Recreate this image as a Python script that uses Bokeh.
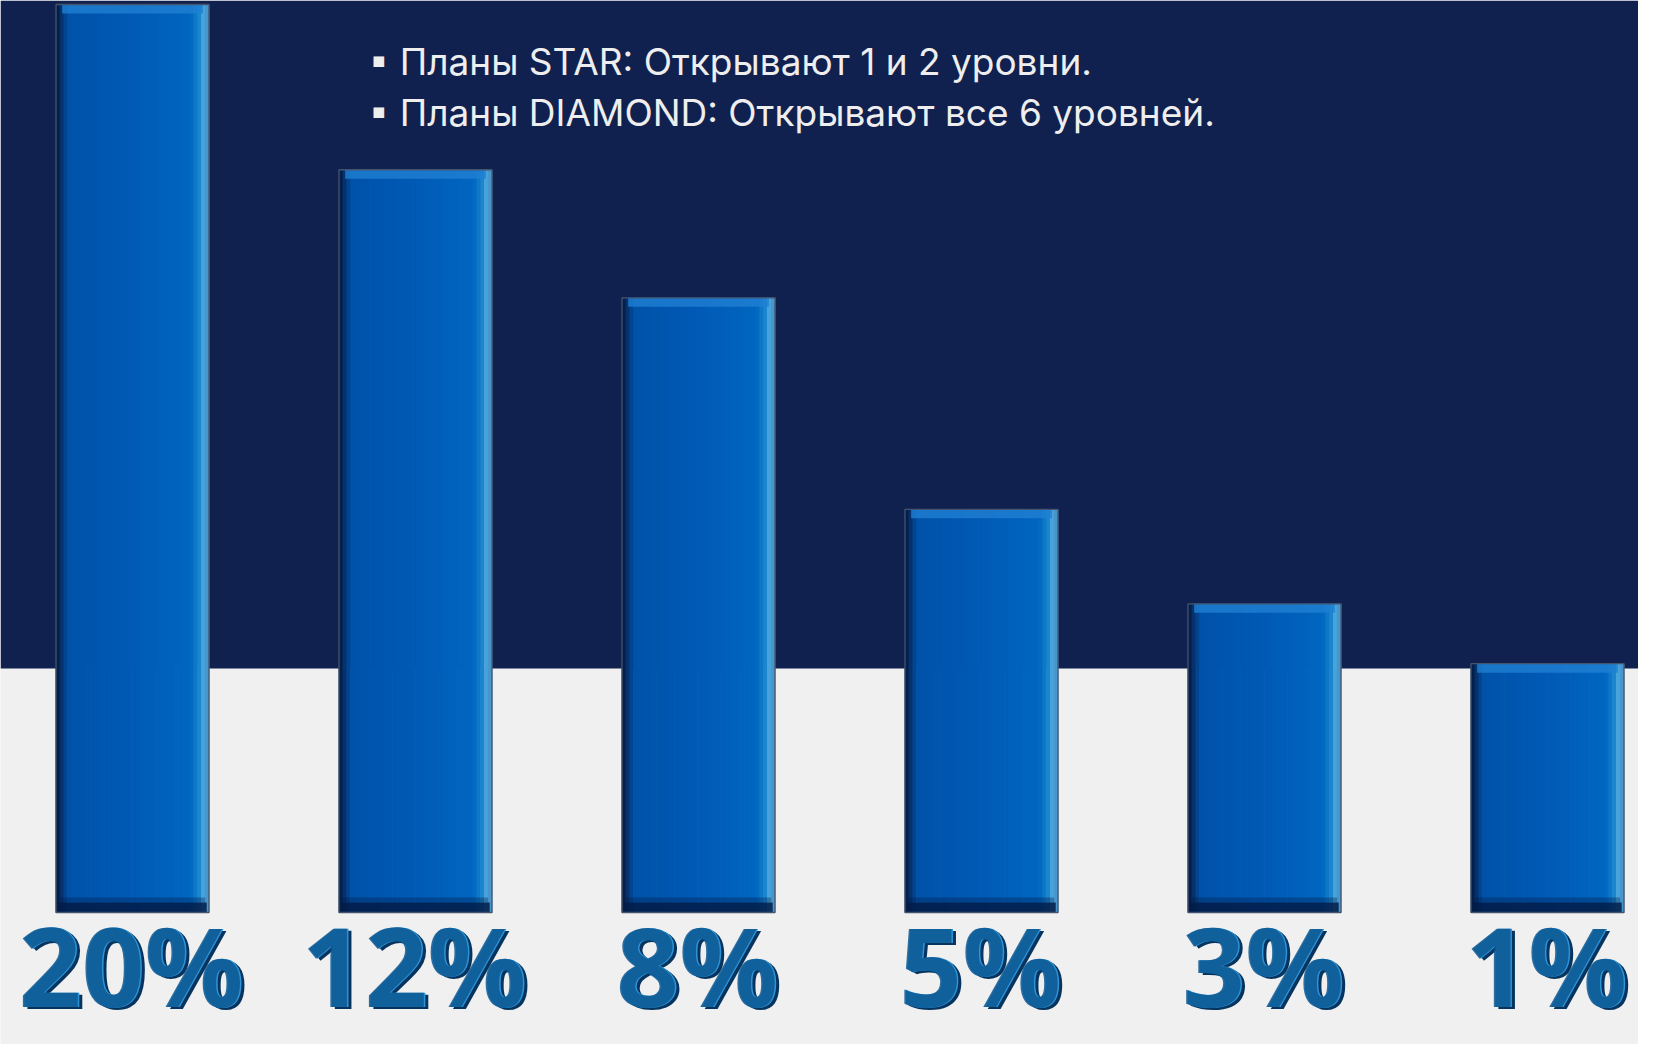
import numpy as np
from bokeh.plotting import figure
from bokeh.models import ColumnDataSource, Range1d, BoxAnnotation, Label
from bokeh.transform import dodge
from bokeh.core.properties import value
from bokeh.embed import file_html
from bokeh.resources import INLINE

# ---------------- data ----------------
levels = ["20%", "12%", "8%", "5%", "3%", "1%"]            # level rewards (category labels)
bar_height = [100.0, 81.8, 67.7, 44.4, 34.0, 27.4]          # relative bar height, tallest = 100
notes = [
    "\u25aa Планы STAR: Открывают 1 и 2 уровни.",
    "\u25aa Планы DIAMOND: Открывают все 6 уровней.",
]

# ---------------- layout / style ----------------
W, H = 1638, 1044
X0_PX, STEP_PX = 132, 283          # first bar centre and bar spacing (px)
BASE_PX = 912                      # pixel row of value 0
PX_PER_UNIT = 9.08                 # vertical pixels per unit
BAND_PX = 668                      # bottom of the dark band (px from top)
BAR_W = 153 / STEP_PX

NAVY = "#11214F"
LIGHT = "#F0F0F0"

x_start = -X0_PX / STEP_PX
x_end = x_start + W / STEP_PX
y_top = BASE_PX / PX_PER_UNIT
y_bottom = y_top - H / PX_PER_UNIT


def ux(px):
    return x_start + px / STEP_PX


def uy(px):
    return y_top - px / PX_PER_UNIT


def hexrgb(c):
    c = c.lstrip("#")
    return np.array([int(c[i:i + 2], 16) for i in (0, 2, 4)], dtype=float)


def ramp(stops, t):
    for (t0, c0), (t1, c1) in zip(stops[:-1], stops[1:]):
        if t0 <= t <= t1:
            a = (t - t0) / (t1 - t0) if t1 > t0 else 0
            rgb = hexrgb(c0) * (1 - a) + hexrgb(c1) * a
            return "#%02x%02x%02x" % tuple(int(round(v)) for v in rgb)
    return stops[-1][1]


p = figure(
    width=W, height=H,
    x_range=Range1d(x_start, x_end), y_range=Range1d(y_bottom, y_top),
    output_backend="svg", toolbar_location=None,
    x_axis_location=None, y_axis_location=None,
    min_border=0, background_fill_color=LIGHT, border_fill_color=LIGHT,
    outline_line_color=None,
)
p.grid.visible = False

# dark upper band
p.add_layout(BoxAnnotation(bottom=uy(BAND_PX), fill_color=NAVY, fill_alpha=1.0,
                           line_color=None, level="underlay"))

h = np.array(bar_height)
src = ColumnDataSource(dict(
    idx=list(range(len(levels))),
    h=bar_height,
    label=levels,
    top_strip=list(h - 9 / PX_PER_UNIT),
    bot1=[10 / PX_PER_UNIT] * len(levels),
    bot2=[15 / PX_PER_UNIT] * len(levels),
))

# horizontal gradient of the bars, drawn as thin slices
stops = [(0.0, "#03163A"), (0.035, "#062F68"), (0.08, "#0052A8"), (0.5, "#005AB6"),
         (0.88, "#0066C0"), (0.94, "#1C86CF"), (0.97, "#56ADE0"), (1.0, "#3C88BE")]
N = 40
sw = BAR_W / N
for j in range(N):
    t = (j + 0.5) / N
    off = (-0.5 + t) * BAR_W
    p.vbar(x=dodge("idx", off), width=sw + 0.7 / STEP_PX, top="h", bottom=0,
           fill_color=ramp(stops, t), line_color=None, source=src)

# bevel: light top edge, dark bottom edge
p.vbar(x="idx", width=BAR_W * 0.92, top="h", bottom="top_strip",
       fill_color="#1F80D2", fill_alpha=0.8, line_color=None, source=src)
p.vbar(x="idx", width=BAR_W * 0.97, top="bot1", bottom=0,
       fill_color="#021A44", fill_alpha=0.85, line_color=None, source=src)
p.vbar(x="idx", width=BAR_W * 0.95, top="bot2", bottom="bot1",
       fill_color="#021A44", fill_alpha=0.35, line_color=None, source=src)
p.vbar(x="idx", width=BAR_W, top="h", bottom=0, fill_alpha=0,
       line_color="#44546E", line_width=1.3, source=src)

# level labels (layered for a bevelled look)
lab_y = uy(963)
common = dict(y=lab_y, text="label", source=src, text_font=value("Open Sans"),
              text_font_style="bold", text_font_size="110px",
              text_align="center", text_baseline="alphabetic")
p.text(x=dodge("idx", 3 / STEP_PX), text_color="#06345E", y_offset=2, **common)
p.text(x=dodge("idx", 0), text_color="#2E93D6", **common)
p.text(x=dodge("idx", -1.5 / STEP_PX), text_color="#0B5792", text_alpha=0.85, **common)

# notes
for i, t in enumerate(notes):
    p.add_layout(Label(x=ux(368), y=uy(61 + 51 * i), text=t,
                       text_font="Inter", text_font_size="37px",
                       text_color="#EEEEEE", text_baseline="alphabetic"))

open("out.html", "w").write(file_html(p, INLINE))
